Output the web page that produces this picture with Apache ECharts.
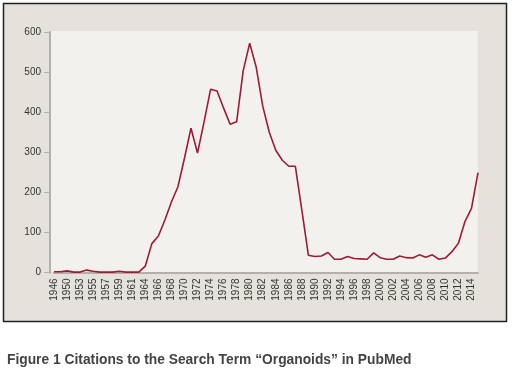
<!DOCTYPE html>
<html>
<head>
<meta charset="utf-8">
<script src="https://cdn.jsdelivr.net/npm/echarts@6/dist/echarts.min.js"></script>
<style>
html,body{margin:0;padding:0;background:#fff;}
#c{width:518px;height:369px;}
</style>
</head>
<body>
<div id="c"></div>
<script>
var years = ['1946','1949','1950','1952','1953','1954','1955','1956','1957','1958','1959','1960','1961','1963',
  '1964','1965','1966','1967','1968','1969','1970','1971','1972','1973','1974','1975','1976','1977','1978','1979',
  '1980','1981','1982','1983','1984','1985','1986','1987','1988','1989','1990','1991','1992','1993','1994','1995',
  '1996','1997','1998','1999','2000','2001','2002','2003','2004','2005','2006','2007','2008','2009','2010','2011',
  '2012','2013','2014','2015'];
var citations = [2,2,4,1,1,6,3,1,1,1,3,1,1,1,
  16,72,91,131,176,214,285,360,298,375,457,453,410,370,376,503,
  572,512,415,350,305,280,265,265,155,43,40,41,50,33,33,40,
  35,34,33,49,37,33,33,41,37,36,44,38,44,33,36,52,
  73,127,160,249];
var yTicks = [0,100,200,300,400,500,600];
var caption = 'Figure 1 Citations to the Search Term \u201cOrganoids\u201d in PubMed';

var chart = echarts.init(document.getElementById('c'), null, {renderer:'canvas'});
chart.setOption({
  animation: false,
  backgroundColor: '#ffffff',
  title: {
    text: caption,
    left: 2, top: 348,
    textStyle: {fontFamily: 'Arial, Liberation Sans, sans-serif', fontSize: 13.8, fontWeight: 'bold', color: '#444'}
  },
  graphic: [
    {type:'rect', z:-20, shape:{x:3.5, y:3.5, width:503, height:318}, style:{fill:'#e5e2dc', stroke:'#222', lineWidth:1.5}},
    {type:'rect', z:-19, shape:{x:51, y:31, width:427, height:241}, style:{fill:'#f3f1ed'}}
  ],
  grid: {left: 54, right: 40, top: 32, bottom: 96.5},
  xAxis: {
    type: 'category',
    data: years,
    boundaryGap: false,
    axisLine: {show: true, lineStyle: {color: '#b3afa9', width: 2}},
    axisTick: {show: false},
    axisLabel: {interval: 1, rotate: 90, fontSize: 10, color: '#333', margin: 6, fontFamily: 'Arial, Liberation Sans, sans-serif'},
    splitLine: {show: false}
  },
  yAxis: {
    type: 'value',
    min: yTicks[0], max: yTicks[yTicks.length-1], interval: 100,
    offset: 4,
    axisLine: {show: true, lineStyle: {color: '#b3afa9', width: 2}},
    axisTick: {show: true, length: 6, lineStyle: {color: '#b3afa9', width: 1}},
    axisLabel: {fontSize: 10, color: '#333', margin: 9, fontFamily: 'Arial, Liberation Sans, sans-serif'},
    splitLine: {show: false}
  },
  series: [{
    type: 'line',
    data: citations,
    symbol: 'none',
    lineStyle: {color: '#a01a30', width: 1.6},
    z: 3
  }]
});
</script>
</body>
</html>
